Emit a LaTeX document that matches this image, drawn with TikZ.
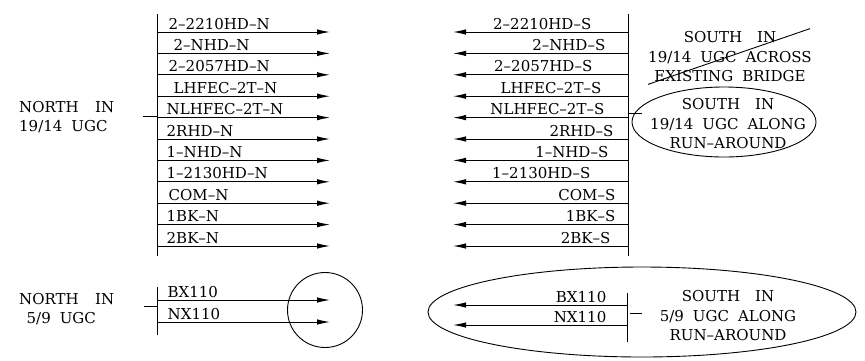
\documentclass[tikz,border=0pt]{standalone}
\usepackage{fontspec}
\setmainfont{DejaVu Serif}
\usetikzlibrary{arrows.meta,shapes.geometric}

\tikzset{
  feed/.style={-{Latex[length=13pt,width=5.5pt]}, line width=1pt},
  bus/.style={line width=1pt},
  tag/.style={inner sep=1.5pt, font=\fontsize{15}{17}\selectfont},
  legend/.style={align=center, inner sep=0pt, font=\fontsize{15}{19.5}\selectfont},
  ring/.style={draw, line width=0.9pt, inner sep=0pt},
}

\begin{document}
\begin{tikzpicture}[x=1pt,y=-1pt]
  \useasboundingbox (0,0) rectangle (865,360);

  % upper bank, north side
  \coordinate (nt) at (157,14);
  \coordinate (nb) at (157,256);
  \draw[bus] (nt) -- (nb);
  \foreach \lab/\xs [count=\i] in {2–2210HD–N/167, 2–NHD–N/172, 2–2057HD–N/167,
      LHFEC–2T–N/172, NLHFEC–2T–N/165, 2RHD–N/165, 1–NHD–N/165, 1–2130HD–N/165,
      COM–N/167, 1BK–N/165, 2BK–N/165} {
    \coordinate (n\i) at (157,{32+(\i-1)*21.4});
    \coordinate (ne\i) at (330,{32+(\i-1)*21.4});
    \draw[feed] (n\i) -- (ne\i);
    \node[tag, anchor=south west] (ln\i) at (\xs,{31+(\i-1)*21.4}) {\lab};
  }
  \node[legend, align=left, anchor=west] (nin) at (19,117)
    {NORTH\hspace{1.1em}IN\\19/14\hspace{.6em}UGC};
  \coordinate (ns) at (143,116);
  \draw[bus] (ns) -- (ns -| nt);

  % upper bank, south side
  \coordinate (st) at (628,14);
  \coordinate (sb) at (628,256);
  \draw[bus] (st) -- (sb);
  \foreach \lab/\xe [count=\i] in {2–2210HD–S/593, 2–NHD–S/607, 2–2057HD–S/594,
      LHFEC–2T–S/603, NLHFEC–2T–S/606, 2RHD–S/615, 1–NHD–S/610, 1–2130HD–S/592,
      COM–S/617, 1BK–S/617, 2BK–S/612} {
    \coordinate (s\i) at (628,{32+(\i-1)*21.4});
    \coordinate (se\i) at (453,{32+(\i-1)*21.4});
    \draw[feed] (s\i) -- (se\i);
    \node[tag, anchor=south east] (ls\i) at (\xe,{31+(\i-1)*21.4}) {\lab};
  }
  \node[legend] (acr) at (730,57)
    {SOUTH\hspace{1em}IN\\19/14\hspace{.6em}UGC\hspace{.6em}ACROSS\\EXISTING\hspace{.6em}BRIDGE};
  \draw[line width=0.9pt] ([yshift=-2pt]acr.south west) -- ([xshift=-2pt,yshift=3pt]acr.north east);
  \node[ring, ellipse, minimum width=184pt, minimum height=70pt] (run) at (724,122) {};
  \node[legend] (runtxt) at (728,124)
    {SOUTH\hspace{1em}IN\\19/14\hspace{.6em}UGC\hspace{.6em}ALONG\\RUN–AROUND};
  \coordinate (ss) at (628,113);
  \coordinate (sr) at (642,113);
  \draw[bus] (ss) -- (sr);

  % lower bank, north side
  \coordinate (mt) at (157,287);
  \coordinate (mb) at (157,335);
  \draw[bus] (mt) -- (mb);
  \coordinate (bx) at (157,300);
  \coordinate (nx) at (157,322);
  \coordinate (bxe) at (330,300);
  \coordinate (nxe) at (330,322);
  \draw[feed] (bx) -- (bxe);
  \draw[feed] (nx) -- (nxe);
  \node[tag, anchor=south west] (lbx) at (166,299) {BX110};
  \node[tag, anchor=south west] (lnx) at (166,321) {NX110};
  \node[legend, align=left, anchor=west] (nfive) at (19,309)
    {NORTH\hspace{1.1em}IN\\\hspace{.5em}5/9\hspace{.6em}UGC};
  \coordinate (ms) at (144,306);
  \draw[bus] (ms) -- (ms -| mt);
  \node[ring, circle, minimum size=75pt] (hoop) at (325,310) {};

  % lower bank, south side
  \coordinate (pt) at (627,293);
  \coordinate (pb) at (627,342);
  \draw[bus] (pt) -- (pb);
  \coordinate (sbx) at (627,305);
  \coordinate (snx) at (627,325);
  \coordinate (sbxe) at (453,305);
  \coordinate (snxe) at (453,325);
  \draw[feed] (sbx) -- (sbxe);
  \draw[feed] (snx) -- (snxe);
  \node[tag, anchor=south east] (lsbx) at (608,304) {BX110};
  \node[tag, anchor=south east] (lsnx) at (608,324) {NX110};
  \node[legend] (sfive) at (728,316)
    {SOUTH\hspace{1em}IN\\5/9\hspace{.6em}UGC\hspace{.6em}ALONG\\RUN–AROUND};
  \coordinate (ps) at (630,313);
  \coordinate (pr) at (642,313);
  \draw[bus] (ps) -- (pr);
  \node[ring, ellipse, minimum width=428pt, minimum height=90pt] (loop) at (642,312) {};
\end{tikzpicture}
\end{document}
